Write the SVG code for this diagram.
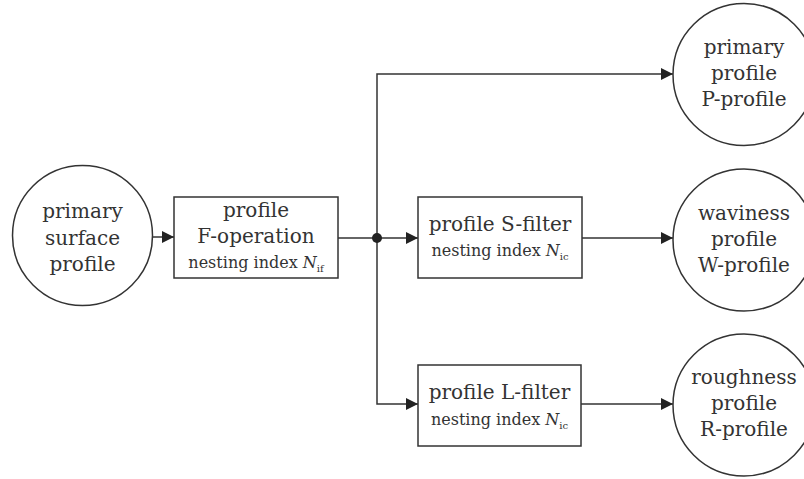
<svg xmlns="http://www.w3.org/2000/svg" width="804" height="479" viewBox="0 0 804 479">
<defs>
<style>
.n{fill:#fff;stroke:#333;stroke-width:1.5}
.c{fill:none;stroke:#333;stroke-width:1.5}
text{font-family:"DejaVu Serif","Liberation Serif",serif;fill:#333;text-anchor:middle}
.t{font-size:20px}
.s{font-size:16px}
.i{font-style:italic}
.sub{font-size:10px}
</style>
<marker id="ah" viewBox="0 0 12 12" refX="12" refY="6" markerWidth="12" markerHeight="12" markerUnits="userSpaceOnUse" orient="auto">
<path d="M0,0 L12,6 L0,12 Z" fill="#222"/>
</marker>
</defs>
<rect width="804" height="479" fill="#fff"/>
<g id="connectors">
<line class="c" x1="153" y1="237" x2="174" y2="237" marker-end="url(#ah)"/>
<line class="c" x1="338" y1="238" x2="418" y2="238" marker-end="url(#ah)"/>
<polyline class="c" points="377,238 377,74 673,74" marker-end="url(#ah)"/>
<polyline class="c" points="377,238 377,404 418,404" marker-end="url(#ah)"/>
<line class="c" x1="582" y1="238" x2="673" y2="238" marker-end="url(#ah)"/>
<line class="c" x1="581" y1="404" x2="673" y2="404" marker-end="url(#ah)"/>
<circle cx="377" cy="238" r="5" fill="#222"/>
</g>
<g id="primary-surface">
<circle class="n" cx="82.5" cy="235.5" r="70"/>
<text class="t" x="82.5" y="218">primary</text>
<text class="t" x="82.5" y="245">surface</text>
<text class="t" x="82.5" y="271">profile</text>
</g>
<g id="f-operation">
<rect class="n" x="174" y="197" width="164" height="81"/>
<text class="t" x="256" y="217">profile</text>
<text class="t" x="256" y="243">F-operation</text>
<text class="s" x="256" y="268">nesting index <tspan class="i">N</tspan><tspan class="sub" dy="4">if</tspan></text>
</g>
<g id="s-filter">
<rect class="n" x="418" y="197" width="164" height="81"/>
<text class="t" x="500" y="231">profile S-filter</text>
<text class="s" x="500" y="256">nesting index <tspan class="i">N</tspan><tspan class="sub" dy="4">ic</tspan></text>
</g>
<g id="l-filter">
<rect class="n" x="418" y="365" width="163" height="81"/>
<text class="t" x="499.5" y="399">profile L-filter</text>
<text class="s" x="499.5" y="425">nesting index <tspan class="i">N</tspan><tspan class="sub" dy="4">ic</tspan></text>
</g>
<g id="p-profile">
<circle class="n" cx="744" cy="74.5" r="71"/>
<text class="t" x="744" y="54">primary</text>
<text class="t" x="744" y="80">profile</text>
<text class="t" x="744" y="106">P-profile</text>
</g>
<g id="w-profile">
<circle class="n" cx="744" cy="240" r="71"/>
<text class="t" x="744" y="220">waviness</text>
<text class="t" x="744" y="246">profile</text>
<text class="t" x="744" y="272">W-profile</text>
</g>
<g id="r-profile">
<circle class="n" cx="744" cy="405" r="71"/>
<text class="t" x="744" y="384">roughness</text>
<text class="t" x="744" y="410">profile</text>
<text class="t" x="744" y="436">R-profile</text>
</g>
</svg>
